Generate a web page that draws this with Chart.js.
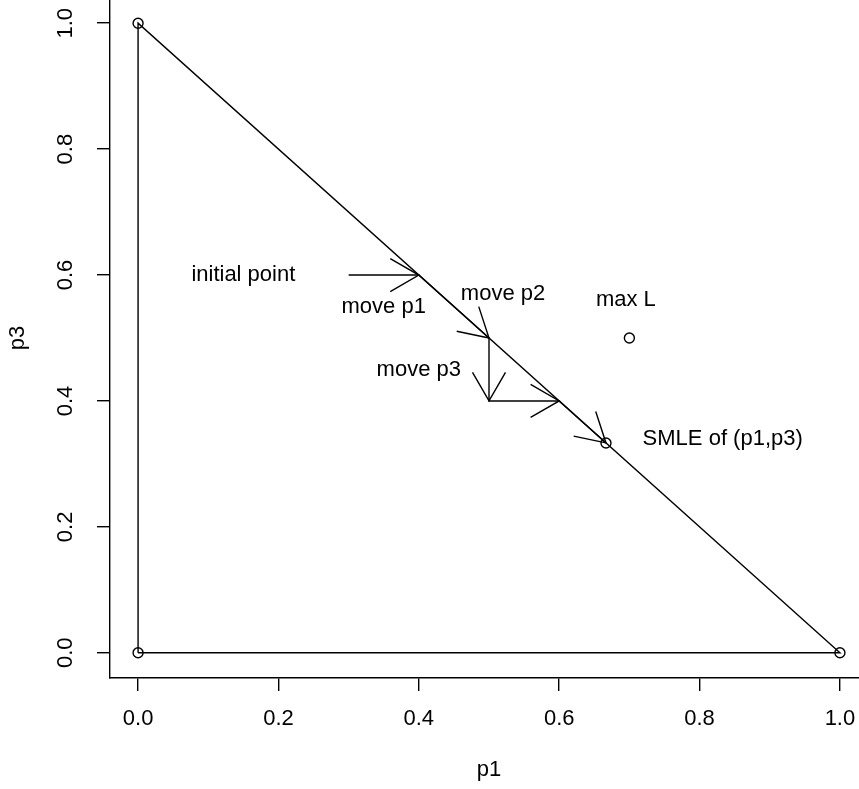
<!DOCTYPE html>
<html>
<head>
<meta charset="utf-8">
<script src="https://cdn.jsdelivr.net/npm/chart.js@4"></script>
<style>
  html, body { margin: 0; padding: 0; background: #fff; overflow: hidden; }
  #chart { position: absolute; left: 0; top: -2px; }
</style>
</head>
<body>
<canvas id="chart" width="870" height="791"></canvas>
<script>
'use strict';

// tick positions and labels (both axes use the same ones)
const tickValues = [0, 0.2, 0.4, 0.6, 0.8, 1.0];
const tickLabels = ['0.0', '0.2', '0.4', '0.6', '0.8', '1.0'];

// the simplex edges
const triangleP1 = [0, 1, 0, 0];
const triangleP3 = [0, 0, 1, 0];

// open circles: corners, SMLE, max L
const circleP1 = [0, 1, 0, 2 / 3, 0.7];
const circleP3 = [0, 0, 1, 1 / 3, 0.5];

// the path of the moves, an arrow ends at every point after the first
const pathP1 = [0.3, 0.4, 0.5, 0.5, 0.6, 2 / 3];
const pathP3 = [0.6, 0.6, 0.5, 0.4, 0.4, 1 / 3];

// text notes
const noteText = ['initial point', 'move p1', 'move p2', 'move p3', 'max L', 'SMLE of (p1,p3)'];
const noteP1 = [0.15, 0.35, 0.52, 0.40, 0.695, 0.833];
const noteP3 = [0.60, 0.55, 0.57, 0.45, 0.56, 0.34];

const FONT = '"Liberation Sans", Arial, Helvetica, sans-serif';
const LW = 1.4;

Chart.defaults.font.family = FONT;
Chart.defaults.font.size = 22;
Chart.defaults.color = '#000';

function toPoints(xs, ys) {
  return xs.map((x, i) => ({x: x, y: ys[i]}));
}

const arrowHeads = {
  id: 'arrowHeads',
  afterDatasetsDraw(chart) {
    const ctx = chart.ctx;
    const xs = chart.scales.x, ys = chart.scales.y;
    const len = 33, ang = Math.PI / 6;
    ctx.save();
    ctx.strokeStyle = '#000';
    ctx.lineWidth = LW;
    for (let i = 1; i < pathP1.length; i++) {
      const x0 = xs.getPixelForValue(pathP1[i - 1]), y0 = ys.getPixelForValue(pathP3[i - 1]);
      const x1 = xs.getPixelForValue(pathP1[i]), y1 = ys.getPixelForValue(pathP3[i]);
      const a = Math.atan2(y1 - y0, x1 - x0);
      ctx.beginPath();
      ctx.moveTo(x1 - len * Math.cos(a - ang), y1 - len * Math.sin(a - ang));
      ctx.lineTo(x1, y1);
      ctx.lineTo(x1 - len * Math.cos(a + ang), y1 - len * Math.sin(a + ang));
      ctx.stroke();
    }
    ctx.restore();
  }
};

const notes = {
  id: 'notes',
  afterDatasetsDraw(chart) {
    const ctx = chart.ctx;
    const xs = chart.scales.x, ys = chart.scales.y;
    ctx.save();
    ctx.fillStyle = '#000';
    ctx.font = '22px ' + FONT;
    ctx.textAlign = 'center';
    ctx.textBaseline = 'middle';
    noteText.forEach((t, i) => {
      ctx.fillText(t, xs.getPixelForValue(noteP1[i]), ys.getPixelForValue(noteP3[i]));
    });
    ctx.restore();
  }
};

function fixTicks(scale) {
  scale.ticks = tickValues.map(v => ({value: v}));
}

function axisOpts(title, titlePad, extra) {
  return Object.assign({
    type: 'linear',
    min: -0.04,
    max: 1.04,
    afterBuildTicks: fixTicks,
    grid: {drawOnChartArea: false, drawTicks: true, tickLength: 13, color: '#000', lineWidth: LW},
    border: {display: true, color: '#000', width: LW},
    title: {display: true, text: title, padding: titlePad, font: {size: 22}},
  }, extra);
}

new Chart(document.getElementById('chart'), {
  type: 'scatter',
  data: {
    datasets: [{
      data: toPoints(circleP1, circleP3),
      showLine: false,
      pointStyle: 'circle',
      pointRadius: 5,
      pointBorderWidth: LW,
      pointBorderColor: '#000',
      pointBackgroundColor: 'rgba(0,0,0,0)'
    }, {
      data: toPoints(triangleP1, triangleP3),
      showLine: true,
      borderColor: '#000',
      borderWidth: LW,
      pointRadius: 0
    }, {
      data: toPoints(pathP1, pathP3),
      showLine: true,
      borderColor: '#000',
      borderWidth: LW,
      pointRadius: 0
    }]
  },
  options: {
    responsive: false,
    animation: false,
    devicePixelRatio: 1,
    layout: {autoPadding: false, padding: {left: 0, right: 2, top: 0, bottom: 0}},
    plugins: {legend: {display: false}, tooltip: {enabled: false}},
    scales: {
      x: axisOpts('p1', {top: 0, bottom: 5.4}, {
        position: 'bottom',
        ticks: {padding: 14.9, callback: (v, i) => tickLabels[i]},
        afterFit(s) {
          s.height = 111;
          s.paddingLeft = s.paddingRight = s.paddingTop = s.paddingBottom = 0;
        }
      }),
      y: axisOpts('p3', {top: 4.5, bottom: 0}, {
        position: 'left',
        ticks: {padding: 16, minRotation: 90, maxRotation: 90, crossAlign: 'center', callback: (v, i) => tickLabels[i]},
        afterFit(s) {
          s.width = 110;
          s.paddingLeft = s.paddingRight = s.paddingTop = s.paddingBottom = 0;
        }
      })
    }
  },
  plugins: [arrowHeads, notes]
});
</script>
</body>
</html>
